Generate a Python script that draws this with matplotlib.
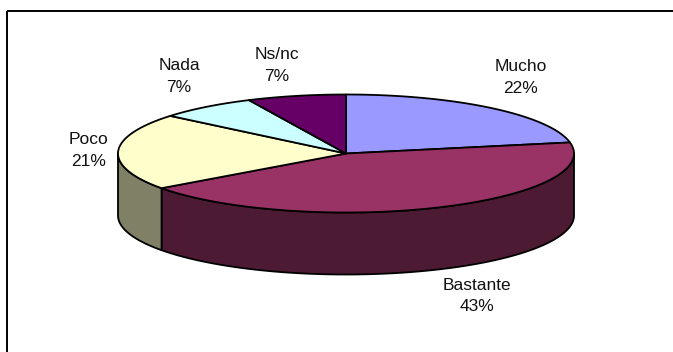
import numpy as np
import matplotlib
matplotlib.use("Agg")
import matplotlib.pyplot as plt
from matplotlib.patches import Polygon

labels = ["Mucho", "Bastante", "Poco", "Nada", "Ns/nc"]
values = [22, 43, 21, 7, 7]
top_colors = ["#9999FF", "#993366", "#FFFFCC", "#CCFFFF", "#660066"]
side_colors = ["#4D4D80", "#4D1A33", "#808066", "#668080", "#330033"]
label_xy = [(521, 77.5), (477, 296), (89, 150.5), (179, 76.5), (277, 65.5)]

W, H = 673, 352
CX, CY, RX, RY, DEPTH = 346, 153.5, 228, 59, 62

fig = plt.figure(figsize=(W / 100, H / 100), dpi=100, facecolor="white")
ax = fig.add_axes([0, 0, 1, 1])
ax.set_xlim(0, W)
ax.set_ylim(H, 0)
ax.axis("off")

ax.add_patch(plt.Rectangle((6.5, 10.5), 700, 400, fill=False, ec="black", lw=1.4, clip_on=True))

fractions = np.array(values) / sum(values)
edges = np.concatenate([[0], np.cumsum(fractions)]) * 2 * np.pi


def rim(a, dy=0.0):
    return np.column_stack([CX + RX * np.sin(a), CY - RY * np.cos(a) + dy])


# side walls: only the front half of the rim is visible
for i in range(len(values)):
    lo, hi = max(edges[i], np.pi / 2), min(edges[i + 1], 3 * np.pi / 2)
    if hi <= lo:
        continue
    a = np.linspace(lo, hi, 200)
    pts = np.vstack([rim(a), rim(a[::-1], DEPTH)])
    ax.add_patch(Polygon(pts, closed=True, fc=side_colors[i], ec="black", lw=1.3, joinstyle="round"))

# top face
for i in range(len(values)):
    a = np.linspace(edges[i], edges[i + 1], 200)
    pts = np.vstack([[CX, CY], rim(a)])
    ax.add_patch(Polygon(pts, closed=True, fc=top_colors[i], ec="black", lw=1.3, joinstyle="round"))

for name, v, (x, y) in zip(labels, values, label_xy):
    ax.text(x, y, f"{name}\n{v}%", ha="center", va="center", fontsize=12.5,
            family="Liberation Sans", color="#111111", linespacing=1.58)

fig.savefig("out.png", dpi=100, facecolor="white")
